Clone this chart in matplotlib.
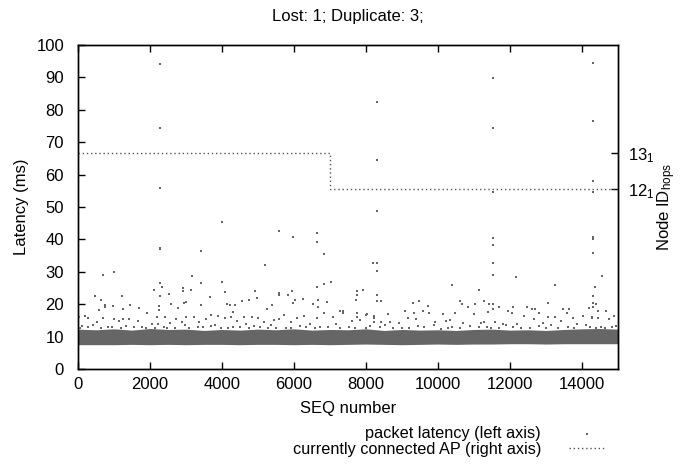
import matplotlib
matplotlib.use("Agg")
import matplotlib.pyplot as plt

plt.rcParams['font.family'] = ['Liberation Sans', 'DejaVu Sans']
plt.rcParams['mathtext.fontset'] = 'custom'
plt.rcParams['mathtext.rm'] = 'Liberation Sans'
plt.rcParams['mathtext.it'] = 'Liberation Sans:italic'
plt.rcParams['mathtext.default'] = 'regular'

# ---------------- data ----------------
title = "Lost: 1; Duplicate: 3;"

# dense latency band (per 500-seq bin): lower / upper edge in ms
band_seq = [0, 500, 1000, 1500, 2000, 2500, 3000, 3500, 4000, 4500, 5000, 5500,
            6000, 6500, 7000, 7500, 8000, 8500, 9000, 9500, 10000, 10500, 11000,
            11500, 12000, 12500, 13000, 13500, 14000, 14500, 15000]
band_lo = [7.5, 7.5, 7.5, 7.6, 7.5, 7.6, 7.5, 7.6, 7.6, 7.5, 7.6, 7.6,
           7.5, 7.6, 7.5, 7.6, 7.7, 7.6, 7.5, 7.6, 7.7, 7.6, 7.7,
           7.7, 7.8, 7.8, 7.7, 7.8, 7.8, 7.8, 7.8]
band_hi = [12.3, 12.1, 12.4, 12.0, 12.5, 12.2, 12.3, 11.9, 12.2, 12.0, 12.3, 12.1,
           12.4, 12.0, 12.2, 12.1, 12.4, 11.9, 12.2, 12.0, 12.1, 11.9, 12.2,
           12.3, 12.0, 12.1, 11.9, 12.2, 12.4, 12.5, 12.3]

# individual packets above the dense band (SEQ, latency ms)
pkt_seq = [
    2278, 2278, 2278, 2265, 2265, 2270, 2333, 2278, 2259, 2259,
    8314, 8314, 8300, 8204, 8296, 8306, 8296, 8296, 8417,
    11537, 11537, 11537, 11519, 11519, 11519, 11519, 11519, 11519,
    14315, 14315, 14315, 14315, 14315, 14315, 14315, 14556, 14370, 14315,
    14315, 14389, 14315, 14204, 14435, 14667,
    4009, 5583, 5963, 6639, 6648, 6843, 3426, 5185, 694, 1009, 3167, 4009,
    6630, 6843, 7019, 7741, 7741, 7907, 2102, 2917, 2917, 2528, 3148, 4926,
    5593, 5593, 5824, 5944, 6037, 3426, 472, 648, 1231, 1250, 1454, 1685,
    574, 750, 750, 963, 2583, 2778, 2935, 3000, 3426, 3667, 4092, 4139,
    4222, 4361, 4315, 4565, 4750, 4981, 5250, 5398, 6241, 6519, 6667, 6657,
    6907, 7370, 7722, 8000, 5963, 7287, 7750,
    10398, 11148, 12167, 13250, 10600, 10667, 9296, 9481, 9713, 10842, 11037,
    11286, 11407, 11703, 12092, 12463, 12611, 12694, 13046, 13463, 13648,
    11398, 11935, 12046, 12398, 12815, 13046, 13259, 13583, 13741, 14019,
    14287, 14287, 14454, 14759, 14898, 11287, 11583, 11796, 12194, 12676,
    12907, 13407, 13870,
    7611, 7843, 8028, 8213, 8213, 8213, 8417, 8620, 8667, 8907, 9083, 9167,
    9324, 9389, 9574, 9759, 9926, 10130, 10222, 10343, 10481, 10685, 11009,
    11194, 7750,
    37, 203, 269, 528, 685, 991, 1148, 1241, 1426, 1657, 1907, 2185, 2213,
    2426, 2565, 2722, 2889, 3000, 3231, 3370, 3556, 3685,
    3898, 4092, 4250, 4417, 4602, 4667, 4824, 4991, 5176, 5435, 5593, 5713,
    5917, 6083, 6269, 6454, 6639, 6843, 7074, 7352,
    120, 410, 830, 1320, 1780, 2050, 2480, 2960, 3320, 3800, 4300, 4880,
    5350, 5790, 6180, 6720, 7180, 7520, 8120, 8520, 9010, 9450, 9880, 10400,
    10900, 11350, 11900, 12300, 12800, 13150, 13600, 14100, 14520, 14950,
    60, 290, 650, 940, 1190, 1560, 1890, 2150, 2380, 2700, 3080, 3460, 3690,
    3980, 4180, 4500, 4760, 5050, 5290, 5510, 5930, 6330, 6590, 6950, 7290,
    7690, 7990, 8390, 8760, 9190, 9620, 10080, 10270, 10610, 11130, 11480,
    11690, 12080, 12560, 12990, 13330, 13790, 14230, 14380, 14640, 14820,
]
pkt_lat = [
    94.0, 74.4, 55.8, 37.5, 36.9, 26.4, 25.2, 22.4, 19.4, 18.2,
    82.5, 64.5, 48.8, 32.8, 32.8, 30.2, 22.8, 21.1, 21.1,
    89.9, 74.4, 54.5, 40.3, 38.2, 32.6, 29.0, 20.1, 18.4,
    94.5, 76.6, 58.0, 54.5, 40.8, 40.0, 35.9, 28.7, 25.2, 22.5,
    20.5, 20.1, 19.2, 18.7, 18.0, 18.0,
    45.3, 42.6, 40.7, 42.0, 39.1, 35.6, 36.4, 32.2, 29.0, 29.8, 28.8, 26.9,
    25.2, 26.3, 26.9, 24.2, 22.8, 24.4, 24.4, 25.1, 24.0, 23.2, 24.3, 24.2,
    23.6, 22.9, 22.8, 24.0, 21.4, 26.4, 22.4, 21.3, 22.4, 18.6, 19.6, 18.9,
    18.2, 19.7, 19.0, 19.3, 20.1, 18.7, 20.4, 20.7, 19.6, 22.1, 23.8, 20.0,
    19.6, 19.6, 17.5, 21.0, 21.3, 22.0, 18.5, 19.6, 21.5, 20.2, 21.4, 19.0,
    20.7, 17.4, 21.3, 16.7, 20.5, 17.9, 17.2,
    25.9, 24.3, 28.3, 26.0, 21.1, 20.1, 20.4, 21.0, 19.5, 19.0, 20.1,
    20.9, 20.1, 19.2, 19.0, 19.2, 18.4, 18.4, 20.5, 18.4, 18.5,
    17.7, 17.9, 17.2, 16.5, 17.2, 16.0, 16.0, 17.2, 15.6, 16.5,
    16.0, 15.6, 15.7, 15.5, 16.5, 14.5, 14.6, 14.0, 13.8, 15.5,
    14.2, 14.9, 14.0,
    14.9, 15.1, 17.0, 16.5, 15.6, 14.6, 14.4, 17.0, 14.6, 14.3, 17.9, 15.7,
    17.4, 15.5, 17.9, 17.2, 14.6, 17.0, 14.9, 15.1, 17.4, 14.1, 17.0,
    14.2, 16.0,
    16.0, 16.4, 15.7, 14.6, 15.7, 15.4, 14.8, 15.5, 15.4, 14.7, 17.2, 16.0, 14.0,
    16.0, 14.2, 15.4, 14.4, 15.9, 16.0, 14.4, 15.4, 16.7,
    16.5, 15.7, 16.2, 14.8, 16.0, 14.0, 16.2, 15.6, 14.4, 15.2, 15.4, 16.7,
    14.4, 15.7, 16.5, 13.9, 15.7, 17.2, 16.0, 17.9,
    13.2, 13.6, 12.9, 13.4, 13.1, 13.8, 12.8, 13.5, 13.0, 13.7, 12.9, 13.3,
    13.6, 12.8, 13.4, 13.1, 13.9, 12.9, 13.3, 13.6, 12.8, 13.2, 13.5, 12.9,
    13.4, 13.0, 13.7, 12.8, 13.3, 13.5, 12.9, 13.6, 13.1, 13.4,
    12.7, 13.0, 12.6, 12.9, 12.7, 13.1, 12.6, 12.8, 13.0, 12.7, 12.6, 12.9,
    13.2, 12.7, 12.6, 12.9, 12.7, 13.0, 12.6, 12.8, 12.7, 12.9, 12.6, 13.1,
    12.8, 12.7, 12.6, 12.9, 12.7, 12.6, 13.0, 12.5, 12.8, 12.6, 12.9, 12.7,
    12.6, 12.9, 12.7, 12.6, 12.8, 12.7, 13.0, 12.8, 12.6, 12.9,
]

# currently connected AP (right axis)
ap_seq = [0, 7000, 15000]
ap_id = [13, 12, 12]

x_ticks = [0, 2000, 4000, 6000, 8000, 10000, 12000, 14000]
y_ticks = [0, 10, 20, 30, 40, 50, 60, 70, 80, 90, 100]
ap_ticks = [12, 13]
ap_tick_labels = ['12$_1$', '13$_1$']

# ---------------- plot ----------------
grey = '#666666'
fs = 12
fig = plt.figure(figsize=(6.8, 4.68), dpi=100)
ax = fig.add_axes([78 / 680, 1 - 369 / 468, 540 / 680, 324 / 468])
ax2 = ax.twinx()

ax.fill_between(band_seq, band_lo, band_hi, color=grey, linewidth=0, zorder=2)
sc = ax.scatter(pkt_seq, pkt_lat, s=2.4, marker='s', color=grey, linewidths=0, zorder=3)

ln, = ax2.step(ap_seq, ap_id, where='post', color='#555555', linewidth=1.0,
               linestyle=(0, (1, 2)))

ax.set_xlim(0, 15000)
ax.set_ylim(0, 100)
ax2.set_ylim(7, 16)
ax.set_xticks(x_ticks)
ax.set_yticks(y_ticks)
ax2.set_yticks(ap_ticks)
ax2.set_yticklabels(ap_tick_labels)

ax.tick_params(axis='both', direction='in', length=5, width=1, labelsize=fs,
               top=True, right=False)
ax.tick_params(axis='x', pad=6)
ax.tick_params(axis='y', pad=10)
ax2.tick_params(axis='y', direction='in', length=5, width=1, labelsize=fs, pad=7)

for a in (ax, ax2):
    for s in a.spines.values():
        s.set_linewidth(1.0)

ax.set_xlabel('SEQ number', fontsize=fs, labelpad=6)
ax.set_ylabel('Latency (ms)', fontsize=fs, labelpad=5)
ax2.set_ylabel('Node ID$_{hops}$', fontsize=fs, labelpad=1)
ax.set_title(title, fontsize=fs, pad=17)

lfs = 11.7
common = dict(loc='upper right', markerfirst=False, frameon=False, borderpad=0,
              borderaxespad=0, handlelength=2.28, handletextpad=1.72, fontsize=lfs)
fig.legend([sc], ['packet latency (left axis)'], bbox_to_anchor=(606 / 680, 1 - 426 / 468),
           scatterpoints=1, markerscale=1.0, **common)
fig.legend([ln], ['currently connected AP (right axis)'],
           bbox_to_anchor=(606 / 680, 1 - 442 / 468), **common)

fig.savefig('out.png', dpi=100)
